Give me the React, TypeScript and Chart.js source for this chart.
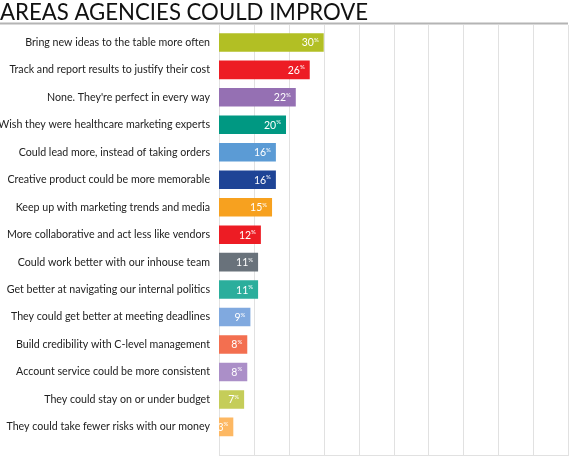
import React, { useEffect, useRef } from "react";
import { Chart, registerables } from "chart.js";

Chart.register(...registerables);

const TITLE = "AREAS AGENCIES COULD IMPROVE";

const categories = [
  "Bring new ideas to the table more often",
  "Track and report results to justify their cost",
  "None. They're perfect in every way",
  "Wish they were healthcare marketing experts",
  "Could lead more, instead of taking orders",
  "Creative product could be more memorable",
  "Keep up with marketing trends and media",
  "More collaborative and act less like vendors",
  "Could work better with our inhouse team",
  "Get better at navigating our internal politics",
  "They could get better at meeting deadlines",
  "Build credibility with C-level management",
  "Account service could be more consistent",
  "They could stay on or under budget",
  "They could take fewer risks with our money",
];

// bar lengths as drawn in the picture (percent)
const barValues = [30, 26, 22, 19.2, 16.3, 16.3, 15.2, 12, 11.2, 11.2, 9, 8.1, 8.1, 7.2, 4.1];
// printed value labels
const valueLabels = ["30", "26", "22", "20", "16", "16", "15", "12", "11", "11", "9", "8", "8", "7", "3"];

const barColors = [
  "#b2bf24",
  "#ed1c24",
  "#9570b3",
  "#009882",
  "#5b9bd5",
  "#1e4496",
  "#f7a11f",
  "#ed1c24",
  "#69727b",
  "#2bae9c",
  "#80a9df",
  "#f36f50",
  "#ab8fc8",
  "#c5cd59",
  "#fdb863",
];

const gridTicks = [0, 10, 20, 30, 40, 50, 60, 70, 80, 90, 100];

const FONT = "Lato, 'Open Sans', sans-serif";

const decorPlugin = {
  id: "decor",
  beforeDatasetsDraw(chart: any) {
    const ctx = chart.ctx;
    const xs = chart.scales.x;
    ctx.save();
    ctx.strokeStyle = "#e1e1e1";
    ctx.lineWidth = 1;
    for (const t of gridTicks) {
      const x = Math.round(xs.getPixelForValue(t)) + 0.5;
      ctx.beginPath();
      ctx.moveTo(x, 25);
      ctx.lineTo(x, 455);
      ctx.stroke();
    }
    const x0 = Math.round(xs.getPixelForValue(0));
    const x1 = Math.round(xs.getPixelForValue(100)) + 1;
    ctx.beginPath();
    ctx.moveTo(x0, 455.5);
    ctx.lineTo(x1, 455.5);
    ctx.stroke();
    ctx.restore();
  },
  afterDraw(chart: any) {
    const ctx = chart.ctx;
    ctx.save();
    // title
    ctx.fillStyle = "#111111";
    ctx.font = `22.2px ${FONT}`;
    ctx.textAlign = "left";
    ctx.textBaseline = "alphabetic";
    ctx.fillText(TITLE, 0, 19.5);
    // rule below title
    ctx.fillStyle = "#b4b4b4";
    ctx.fillRect(0, 22.5, 568, 2);
    ctx.restore();
  },
  afterDatasetsDraw(chart: any) {
    const ctx = chart.ctx;
    const meta = chart.getDatasetMeta(0);
    ctx.save();
    ctx.fillStyle = "#ffffff";
    ctx.textBaseline = "alphabetic";
    meta.data.forEach((bar: any, i: number) => {
      const end = bar.x;
      const y = bar.y;
      ctx.font = `6px ${FONT}`;
      const pw = ctx.measureText("%").width;
      ctx.textAlign = "right";
      ctx.fillText("%", end - 5, y - 0.5);
      ctx.font = `10.5px ${FONT}`;
      ctx.fillText(valueLabels[i], end - 5 - pw, y + 4);
    });
    ctx.restore();
  },
};

export default function App() {
  const ref = useRef<HTMLCanvasElement | null>(null);

  useEffect(() => {
    if (!ref.current) return;
    const chart = new Chart(ref.current, {
      type: "bar",
      data: {
        labels: categories,
        datasets: [
          {
            data: barValues,
            backgroundColor: barColors,
            borderWidth: 0,
            barPercentage: 0.675,
            categoryPercentage: 1,
          },
        ],
      },
      options: {
        indexAxis: "y",
        responsive: false,
        animation: false,
        devicePixelRatio: 1,
        layout: { padding: { top: 28.7, right: 2, bottom: 5, left: 0 } },
        plugins: {
          legend: { display: false },
          title: { display: false },
          tooltip: { enabled: false },
        },
        scales: {
          x: {
            min: 0,
            max: 100,
            display: false,
          },
          y: {
            grid: { display: false, drawTicks: false },
            border: { display: false },
            ticks: {
              color: "#222222",
              font: { family: FONT, size: 10.65 },
              padding: 9,
            },
            afterFit(scale: any) {
              scale.width = 219;
            },
          },
        },
      },
      plugins: [decorPlugin],
    });
    return () => chart.destroy();
  }, []);

  return (
    <div style={{ position: "absolute", left: 0, top: 0, width: 570, height: 456, background: "#fff" }}>
      <canvas ref={ref} width={570} height={456} />
    </div>
  );
}
